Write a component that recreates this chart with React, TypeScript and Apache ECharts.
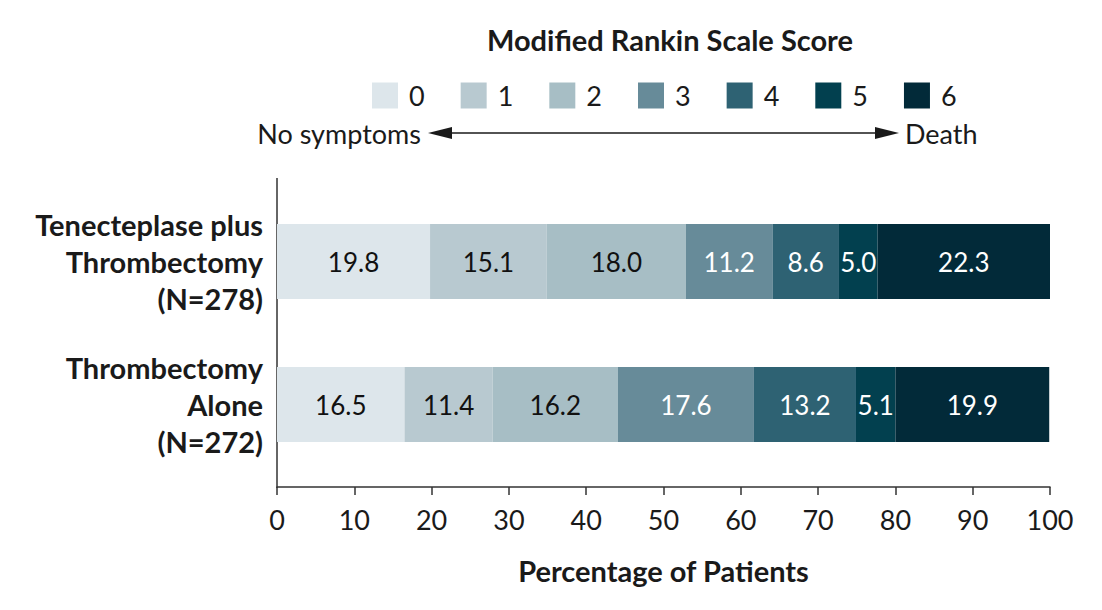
import React, { useEffect, useRef } from "react";
import * as echarts from "echarts";

const categories = ["Tenecteplase plus\nThrombectomy\n(N=278)", "Thrombectomy\nAlone\n(N=272)"];
const scores = ["0", "1", "2", "3", "4", "5", "6"];
const tenecteplase = [19.8, 15.1, 18.0, 11.2, 8.6, 5.0, 22.3];
const alone = [16.5, 11.4, 16.2, 17.6, 13.2, 5.1, 19.9];
const colors = ["#dde6eb", "#b8c9d0", "#a7bec5", "#678b99", "#2e6273", "#02404f", "#022a39"];
const labelColors = ["#111", "#111", "#111", "#fff", "#fff", "#fff", "#fff"];
const xTicks = [0, 100, 10];

const FONT = "Lato";

export default function App() {
  const ref = useRef<HTMLDivElement>(null);
  useEffect(() => {
    if (!ref.current) return;
    const chart = echarts.init(ref.current, null, { renderer: "svg" });
    const series = scores.map((s, i) => ({
      name: s,
      type: "bar",
      stack: "total",
      barWidth: 75,
      data: [tenecteplase[i], alone[i]],
      itemStyle: { color: colors[i] },
      label: {
        show: true,
        position: "inside",
        color: labelColors[i],
        fontFamily: FONT,
        fontSize: 26,
        formatter: (p: any) => Number(p.value).toFixed(1),
      },
    }));
    chart.setOption({
      animation: false,
      textStyle: { fontFamily: FONT },
      title: {
        text: "Modified Rankin Scale Score",
        left: 665,
        textAlign: "center",
        top: 20,
        textStyle: { fontFamily: FONT, fontSize: 29, fontWeight: "bold", color: "#1a1a1a" },
      },
      legend: {
        left: 367,
        top: 77,
        itemWidth: 26,
        itemHeight: 26,
        itemGap: 36,
        icon: "rect",
        data: scores,
        textStyle: { fontFamily: FONT, fontSize: 27, color: "#1a1a1a", padding: [0, 0, 0, 6] },
      },
      grid: { left: 277, right: 52, top: 190, bottom: 134 },
      xAxis: {
        type: "value",
        min: xTicks[0],
        max: xTicks[1],
        interval: xTicks[2],
        offset: 11,
        splitLine: { show: false },
        axisLine: { show: true, lineStyle: { color: "#333", width: 1.5 } },
        axisTick: { show: true, length: 8, lineStyle: { color: "#333", width: 1.5 } },
        axisLabel: { fontFamily: FONT, fontSize: 27, color: "#1a1a1a", margin: 19 },
        name: "Percentage of Patients",
        nameLocation: "middle",
        nameGap: 69,
        nameTextStyle: { fontFamily: FONT, fontSize: 29, fontWeight: "bold", color: "#1a1a1a" },
      },
      yAxis: {
        type: "category",
        inverse: true,
        data: categories,
        axisLine: { show: false },
        axisTick: { show: false },
        axisLabel: {
          fontFamily: FONT,
          fontSize: 29,
          fontWeight: "bold",
          color: "#1a1a1a",
          lineHeight: 37,
          align: "right",
          margin: 14,
        },
      },
      series,
      graphic: [
        { type: "line", shape: { x1: 277, y1: 178, x2: 277, y2: 488 }, style: { stroke: "#333", lineWidth: 1.5 } },
        { type: "text", x: 421, y: 133, style: { text: "No symptoms", align: "right", verticalAlign: "middle", fontFamily: FONT, fontSize: 27, fill: "#1a1a1a" } },
        { type: "text", x: 905, y: 133, style: { text: "Death", align: "left", verticalAlign: "middle", fontFamily: FONT, fontSize: 27, fill: "#1a1a1a" } },
        { type: "line", shape: { x1: 445, y1: 133, x2: 882, y2: 133 }, style: { stroke: "#1a1a1a", lineWidth: 1.5 } },
        { type: "polygon", shape: { points: [[428, 133], [452, 127], [452, 139]] }, style: { fill: "#1a1a1a" } },
        { type: "polygon", shape: { points: [[899, 133], [875, 127], [875, 139]] }, style: { fill: "#1a1a1a" } },
      ],
    });
    return () => chart.dispose();
  }, []);
  return (
    <div
      ref={ref}
      style={{ position: "fixed", left: 0, top: 0, width: 1102, height: 610, background: "#fff" }}
    />
  );
}
